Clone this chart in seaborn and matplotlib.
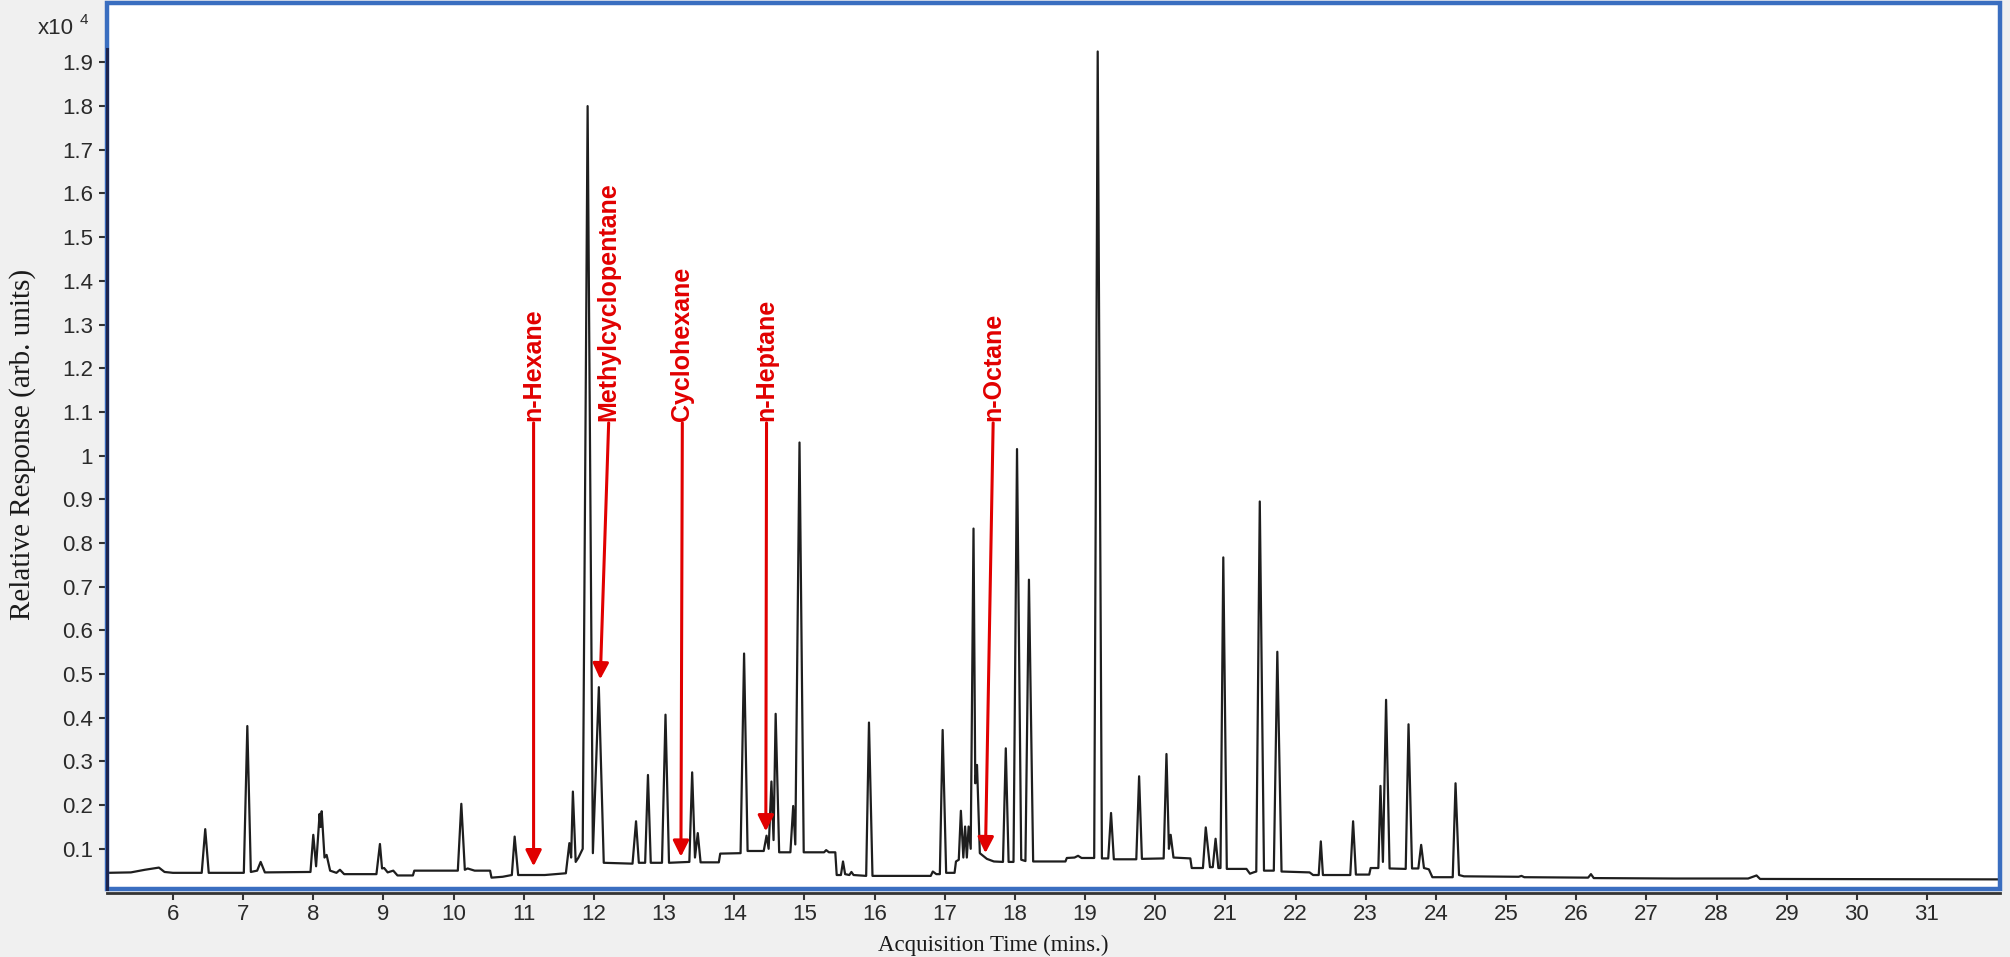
import numpy as np
import pandas as pd
import matplotlib.pyplot as plt
import seaborn as sns
from matplotlib.patches import Rectangle

# peak apexes (time in min, response in x10^4)
apex_time = [6.46, 7.06, 7.25, 8.00, 8.09, 8.12, 8.19, 8.38, 8.95, 9.01, 9.14,
             10.11, 10.20, 10.87, 11.65, 11.70, 11.91, 12.07, 12.60, 12.77, 13.02,
             13.40, 13.48, 14.14, 14.46, 14.53, 14.59, 14.84, 14.93, 15.31, 15.55,
             15.67, 15.92, 16.83, 16.97, 17.23, 17.29, 17.34, 17.41, 17.46, 17.87,
             18.03, 18.20, 18.90, 19.18, 19.37, 19.77, 20.16, 20.22, 20.72, 20.86,
             20.97, 21.49, 21.74, 22.36, 22.82, 23.21, 23.29, 23.61, 23.79, 24.28,
             25.22, 26.21, 28.57]
apex_resp = [0.145, 0.381, 0.070, 0.132, 0.180, 0.186, 0.086, 0.052, 0.111, 0.056, 0.050,
             0.203, 0.055, 0.128, 0.113, 0.231, 1.80, 0.470, 0.163, 0.269, 0.407,
             0.275, 0.136, 0.547, 0.130, 0.254, 0.409, 0.198, 1.03, 0.097, 0.071,
             0.047, 0.389, 0.048, 0.372, 0.187, 0.151, 0.151, 0.833, 0.292, 0.330,
             1.015, 0.716, 0.084, 1.925, 0.182, 0.266, 0.317, 0.132, 0.149, 0.123,
             0.767, 0.895, 0.551, 0.117, 0.163, 0.244, 0.441, 0.385, 0.109, 0.250,
             0.038, 0.042, 0.039]

# baseline / valley points between the peaks
base_time = [5.06, 5.40, 5.60, 5.80, 5.88, 6.00, 6.41, 6.51, 7.01, 7.11, 7.20, 7.31,
             7.96, 8.04, 8.105, 8.16, 8.24, 8.33, 8.44, 8.90, 8.98, 9.06, 9.20, 9.42,
             9.44, 10.06, 10.16, 10.30, 10.52, 10.54, 10.70, 10.83, 10.92, 11.30, 11.60,
             11.675, 11.74, 11.78, 11.84, 11.985, 12.14, 12.55, 12.64, 12.73, 12.81,
             12.97, 13.07, 13.36, 13.44, 13.52, 13.78, 13.80, 14.09, 14.19, 14.42,
             14.49, 14.56, 14.64, 14.80, 14.87, 14.99, 15.28, 15.35, 15.44, 15.46,
             15.52, 15.58, 15.64, 15.70, 15.88, 15.97, 16.80, 16.88, 16.93, 17.02,
             17.14, 17.16, 17.20, 17.265, 17.315, 17.37, 17.435, 17.50, 17.60, 17.70,
             17.83, 17.91, 17.98, 18.09, 18.15, 18.26, 18.72, 18.74, 18.85, 18.95,
             19.13, 19.24, 19.33, 19.41, 19.73, 19.81, 20.12, 20.195, 20.26, 20.50,
             20.52, 20.68, 20.78, 20.82, 20.90, 20.93, 21.02, 21.30, 21.35, 21.40,
             21.44, 21.55, 21.69, 21.80, 22.20, 22.25, 22.33, 22.39, 22.78, 22.86,
             23.05, 23.07, 23.18, 23.245, 23.34, 23.57, 23.66, 23.75, 23.83, 23.90,
             23.95, 24.24, 24.33, 24.40, 25.18, 25.26, 26.17, 26.25, 27.40, 28.45,
             28.62, 32.04]
base_resp = [0.045, 0.046, 0.052, 0.057, 0.047, 0.045, 0.045, 0.045, 0.045, 0.047, 0.050, 0.046,
             0.047, 0.060, 0.150, 0.080, 0.050, 0.045, 0.042, 0.042, 0.055, 0.046, 0.039, 0.039,
             0.050, 0.050, 0.052, 0.050, 0.050, 0.034, 0.036, 0.040, 0.040, 0.040, 0.044,
             0.080, 0.070, 0.080, 0.100, 0.090, 0.068, 0.066, 0.068, 0.068, 0.068,
             0.068, 0.068, 0.070, 0.080, 0.069, 0.069, 0.089, 0.090, 0.095, 0.095,
             0.100, 0.120, 0.092, 0.092, 0.110, 0.092, 0.092, 0.092, 0.092, 0.040,
             0.040, 0.042, 0.040, 0.040, 0.038, 0.038, 0.038, 0.042, 0.042, 0.045,
             0.045, 0.071, 0.075, 0.080, 0.080, 0.100, 0.250, 0.090, 0.077, 0.071,
             0.070, 0.070, 0.070, 0.075, 0.072, 0.071, 0.071, 0.079, 0.080, 0.079,
             0.079, 0.078, 0.078, 0.076, 0.076, 0.077, 0.078, 0.100, 0.080, 0.078,
             0.056, 0.056, 0.058, 0.058, 0.056, 0.056, 0.054, 0.054, 0.043, 0.046,
             0.048, 0.050, 0.050, 0.048, 0.046, 0.040, 0.040, 0.040, 0.040, 0.041,
             0.041, 0.056, 0.056, 0.070, 0.055, 0.054, 0.055, 0.055, 0.056, 0.053,
             0.035, 0.035, 0.040, 0.037, 0.036, 0.035, 0.034, 0.033, 0.032, 0.032,
             0.031, 0.030]

# labelled compounds
compound_names = ['n-Hexane', 'Methylcyclopentane', 'Cyclohexane', 'n-Heptane', 'n-Octane']
label_time = [11.14, 12.21, 13.26, 14.46, 17.69]
arrow_time = [11.14, 12.09, 13.24, 14.45, 17.58]
arrow_resp = [0.060, 0.488, 0.082, 0.140, 0.090]
label_base = 1.075

x_ticks = list(range(6, 32))
y_ticks = [0.1, 0.2, 0.3, 0.4, 0.5, 0.6, 0.7, 0.8, 0.9, 1.0,
           1.1, 1.2, 1.3, 1.4, 1.5, 1.6, 1.7, 1.8, 1.9]
y_ticklabels = ['0.1', '0.2', '0.3', '0.4', '0.5', '0.6', '0.7', '0.8', '0.9', '1',
                '1.1', '1.2', '1.3', '1.4', '1.5', '1.6', '1.7', '1.8', '1.9']

trace = pd.DataFrame({'time': base_time + apex_time,
                      'resp': base_resp + apex_resp}).sort_values('time')

sns.set_style('white')
plt.rcParams['font.family'] = ['Liberation Sans', 'DejaVu Sans']

W, H = 2010, 957
fig = plt.figure(figsize=(W / 100, H / 100), dpi=100, facecolor='#f0f0f0')
ax = fig.add_axes([107 / W, 1 - 889 / H, (2000 - 107) / W, (889 - 3) / H])
ax.set_facecolor('white')

sns.lineplot(data=trace, x='time', y='resp', sort=False, estimator=None,
             color='#1e1e1e', linewidth=1.6, ax=ax)

ax.set_xlim(5.06, 32.04)
ax.set_ylim(0.008, 2.036)

# blue window frame
frame = Rectangle((0, 0), 1, 1, transform=ax.transAxes, fill=False,
                  edgecolor='#3a6ec0', linewidth=3.2, clip_on=False, zorder=5)
ax.add_patch(frame)

for s in ['top', 'right']:
    ax.spines[s].set_visible(False)
ax.spines['left'].set_color('#1c2550')
ax.spines['left'].set_linewidth(2.2)
ax.spines['left'].set_bounds(0.008, 1.93)
ax.spines['left'].set_zorder(6)
ax.spines['bottom'].set_position(('outward', 3))
ax.spines['bottom'].set_color('#333333')
ax.spines['bottom'].set_linewidth(2.0)

ax.set_xticks(x_ticks)
ax.set_xticklabels([str(t) for t in x_ticks])
ax.set_yticks(y_ticks)
ax.set_yticklabels(y_ticklabels)
ax.tick_params(axis='x', direction='out', length=5, width=1.5, color='#333333',
               labelsize=16, labelcolor='#2a2a2a', pad=3, bottom=True)
ax.tick_params(axis='y', direction='out', length=6, width=1.5, color='#333333',
               labelsize=16, labelcolor='#2a2a2a', pad=4, left=True)
ax.set_xlabel('')
ax.set_ylabel('')

# compound annotations
for name, lt, at, av in zip(compound_names, label_time, arrow_time, arrow_resp):
    ax.annotate('', xy=(at, av), xytext=(lt, label_base),
                arrowprops=dict(arrowstyle='-|>', color='#e10000', lw=2.2,
                                mutation_scale=24, shrinkA=0, shrinkB=0))
    ax.text(lt, label_base + 0.005, name, rotation=90, ha='center', va='bottom',
            color='#e10000', fontweight='bold', fontsize=18)

fig.text(993 / W, 1 - 945 / H, 'Acquisition Time (mins.)', ha='center', va='center',
         family=['Liberation Serif', 'DejaVu Serif'], fontsize=16.5, color='#1a1a1a')
fig.text(23 / W, 1 - 444 / H, 'Relative Response (arb. units)', ha='center', va='center',
         rotation=90, family=['Liberation Serif', 'DejaVu Serif'], fontsize=21, color='#1a1a1a')
fig.text(38 / W, 1 - 28 / H, 'x10', ha='left', va='center', fontsize=16, color='#2a2a2a')
fig.text(80 / W, 1 - 20 / H, '4', ha='left', va='center', fontsize=11, color='#2a2a2a')

fig.savefig('out.png', dpi=100, facecolor=fig.get_facecolor())
